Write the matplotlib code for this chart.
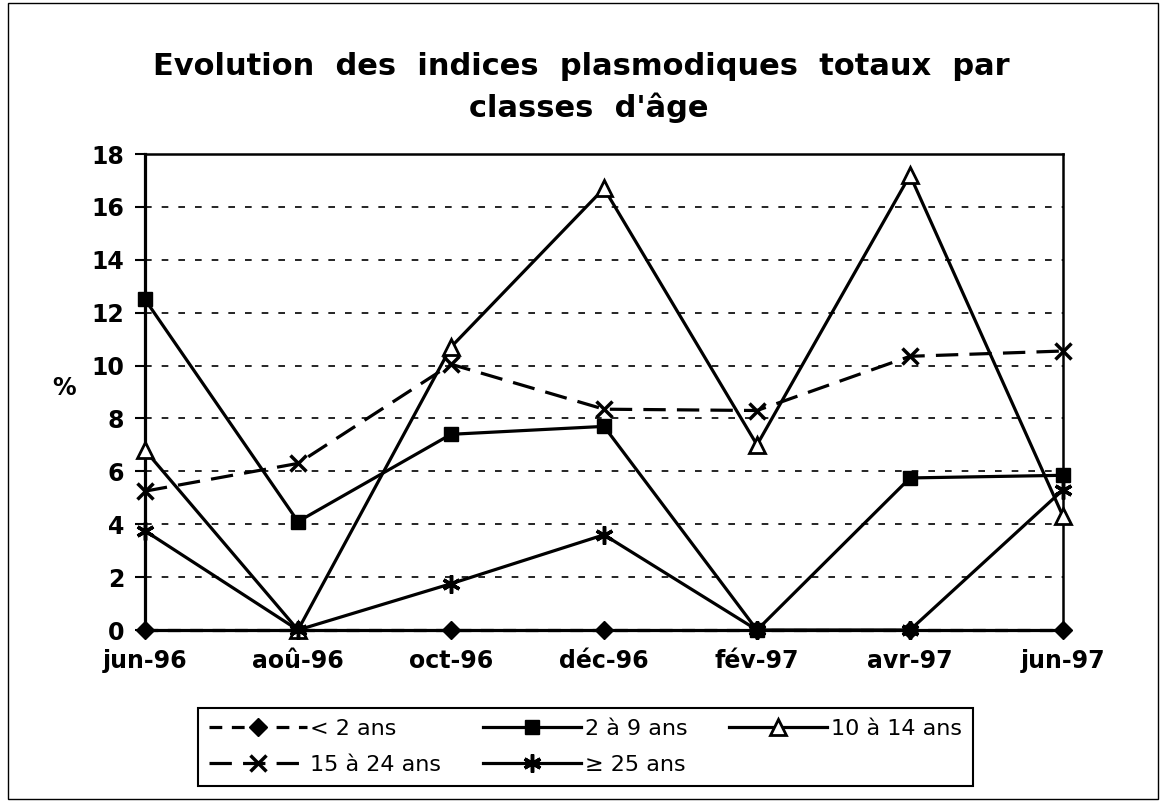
import matplotlib
matplotlib.use("Agg")
import matplotlib.pyplot as plt
from matplotlib.patches import Rectangle

plt.rcParams['font.family'] = ['DejaVu Sans']

# Data
mois = ['jun-96', 'aoû-96', 'oct-96', 'déc-96', 'fév-97', 'avr-97', 'jun-97']
moins_2 = [0, 0, 0, 0, 0, 0, 0]
de_2_a_9 = [12.5, 4.1, 7.4, 7.7, 0, 5.75, 5.85]
de_10_a_14 = [6.8, 0, 10.7, 16.7, 7.0, 17.2, 4.3]
de_15_a_24 = [5.25, 6.3, 10.05, 8.35, 8.3, 10.35, 10.55]
plus_25 = [3.75, 0, 1.75, 3.6, 0, 0, 5.3]

W, H = 1161, 802
fig = plt.figure(figsize=(W / 100, H / 100), dpi=100)
ax = fig.add_axes([145 / W, 1 - 630 / H, (1063 - 145) / W, (630 - 154) / H])

x = list(range(len(mois)))
lw = 2.3
l1, = ax.plot(x, moins_2, color='black', lw=lw, ls=(0, (4, 3)), marker='D', ms=9,
              mfc='black', mec='black', label='< 2 ans', clip_on=False, zorder=5)
l2, = ax.plot(x, de_2_a_9, color='black', lw=lw, marker='s', ms=10,
              mfc='black', mec='black', label='2 à 9 ans', clip_on=False, zorder=5)
l3, = ax.plot(x, de_10_a_14, color='black', lw=lw, marker='^', ms=12,
              mfc='white', mec='black', mew=2, label='10 à 14 ans', clip_on=False, zorder=5)
l4, = ax.plot(x, de_15_a_24, color='black', lw=lw, ls=(0, (7, 3.5)), marker='x', ms=12,
              mew=2.5, label='15 à 24 ans', clip_on=False, zorder=5)
l5, = ax.plot(x, plus_25, color='black', lw=lw, marker=(6, 2, 0), ms=13,
              mew=2.5, label='≥ 25 ans', clip_on=False, zorder=5)

ax.set_xlim(0, len(mois) - 1)
ax.set_ylim(0, 18)
ax.set_yticks(range(0, 19, 2))
ax.set_xticks(x)
ax.set_xticklabels(mois)
for y in range(2, 18, 2):
    ax.axhline(y, color='black', lw=1.2, ls=(0, (4, 6)), zorder=1)

ax.tick_params(axis='both', labelsize=17, width=1.5, length=7, direction='out')
ax.tick_params(axis='y', pad=8)
ax.tick_params(axis='x', length=0, pad=14)
for lab in ax.get_xticklabels() + ax.get_yticklabels():
    lab.set_fontweight('bold')
for side in ['left', 'bottom']:
    ax.spines[side].set_linewidth(2.3)
for side in ['top', 'right']:
    ax.spines[side].set_linewidth(1.8)

ax.set_ylabel('%', rotation=0, fontsize=17, fontweight='bold', va='center', ha='center')
ax.yaxis.set_label_coords(-0.088, 0.508)

fig.text(581 / W, 1 - 75 / H, "Evolution  des  indices  plasmodiques  totaux  par",
         ha='center', va='baseline', fontsize=22, fontweight='bold')
fig.text(589 / W, 1 - 117 / H, "classes  d'âge",
         ha='center', va='baseline', fontsize=22, fontweight='bold')

# legend filled row by row as in the original
handles = [l1, l4, l2, l5, l3]
leg = ax.legend(handles=handles, labels=[h.get_label() for h in handles],
                ncol=3, loc='upper left', bbox_to_anchor=(198 / W, 1 - 708 / H),
                bbox_transform=fig.transFigure, frameon=True, fancybox=False,
                edgecolor='black', framealpha=1, fontsize=16, handlelength=4.4,
                handletextpad=0.15, columnspacing=1.9, borderpad=0.5,
                labelspacing=0.72, borderaxespad=0, numpoints=1)
leg.get_frame().set_linewidth(1.5)

# outer border of the chart
fig.patches.append(Rectangle((8 / W, 3 / H), 1150 / W, 796 / H,
                             transform=fig.transFigure, fill=False,
                             edgecolor='black', lw=1.0))

fig.savefig('out.png', dpi=100)
